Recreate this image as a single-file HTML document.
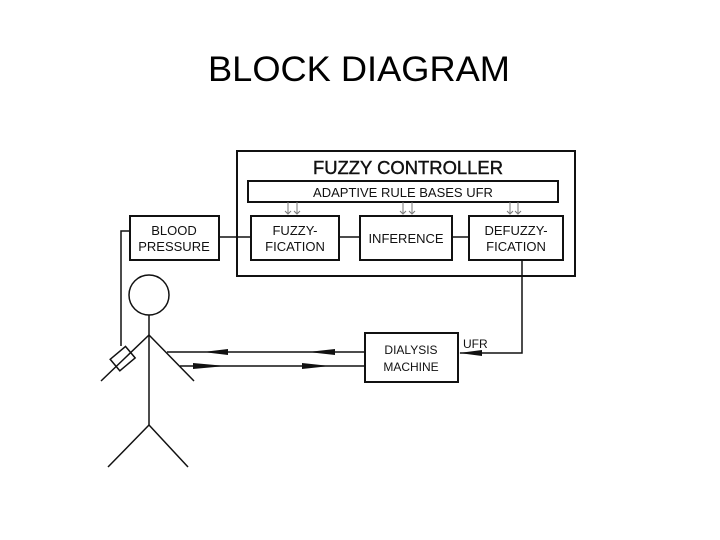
<!DOCTYPE html>
<html><head><style>
html,body{margin:0;padding:0;background:#fff;}
svg{display:block;}
text{font-family:"Liberation Sans",sans-serif;fill:#111;}
</style></head><body>
<svg width="720" height="540" viewBox="0 0 720 540" xmlns="http://www.w3.org/2000/svg">
<text x="359" y="81" font-size="35" text-anchor="middle" textLength="302" lengthAdjust="spacingAndGlyphs" style="fill:#000">BLOCK DIAGRAM</text>
<g fill="none" stroke="#111" stroke-width="2">
<rect x="237" y="151" width="338" height="125"/>
<rect x="248" y="181" width="310" height="21"/>
<rect x="130" y="216" width="89" height="44"/>
<rect x="251" y="216" width="88" height="44"/>
<rect x="360" y="216" width="92" height="44"/>
<rect x="469" y="216" width="94" height="44"/>
<rect x="365" y="333" width="93" height="49"/>
</g>
<g fill="none" stroke="#111" stroke-width="1.5">
<line x1="219" y1="237" x2="251" y2="237"/>
<line x1="339" y1="237" x2="360" y2="237"/>
<line x1="452" y1="237" x2="469" y2="237"/>
<polyline points="130,231 121,231 121,346"/>
<polyline points="522,260 522,353 460,353"/>
<circle cx="149" cy="295" r="20"/>
<line x1="149" y1="315" x2="149" y2="425"/>
<line x1="149" y1="335" x2="101" y2="381"/>
<line x1="149" y1="335" x2="194" y2="381"/>
<line x1="149" y1="425" x2="108" y2="467"/>
<line x1="149" y1="425" x2="188" y2="467"/>
<line x1="167" y1="352" x2="365" y2="352"/>
<line x1="180" y1="366" x2="365" y2="366"/>
<rect x="113" y="351" width="20" height="15" transform="rotate(-40 123 359)"/>
</g>
<g stroke="#777" stroke-width="1" fill="none">
<path d="M288 202v11M297 202v11M285 211l3 3 3-3M294 211l3 3 3-3"/>
<path d="M403 202v11M412 202v11M400 211l3 3 3-3M409 211l3 3 3-3"/>
<path d="M510 202v11M518 202v11M507 211l3 3 3-3M515 211l3 3 3-3"/>
</g>
<g fill="#111">
<polygon points="203,352 228,349 228,355"/>
<polygon points="308,352 335,349 335,355"/>
<polygon points="226,366 193,363 193,369"/>
<polygon points="330,366 302,363 302,369"/>
<polygon points="459,353 482,350 482,356"/>
</g>
<text x="408" y="174" font-size="18" text-anchor="middle" textLength="190" lengthAdjust="spacingAndGlyphs" stroke="#111" stroke-width="0.4">FUZZY CONTROLLER</text>
<text x="403" y="197" font-size="13" text-anchor="middle">ADAPTIVE RULE BASES UFR</text>
<text x="174" y="235" font-size="13" text-anchor="middle">BLOOD</text>
<text x="174" y="251" font-size="13" text-anchor="middle">PRESSURE</text>
<text x="295" y="235" font-size="13" text-anchor="middle">FUZZY-</text>
<text x="295" y="251" font-size="13" text-anchor="middle">FICATION</text>
<text x="406" y="243" font-size="13" text-anchor="middle">INFERENCE</text>
<text x="516" y="235" font-size="13" text-anchor="middle">DEFUZZY-</text>
<text x="516" y="251" font-size="13" text-anchor="middle">FICATION</text>
<text x="411" y="354" font-size="12" text-anchor="middle">DIALYSIS</text>
<text x="411" y="371" font-size="12" text-anchor="middle">MACHINE</text>
<text x="463" y="348" font-size="12">UFR</text>
</svg>
</body></html>
